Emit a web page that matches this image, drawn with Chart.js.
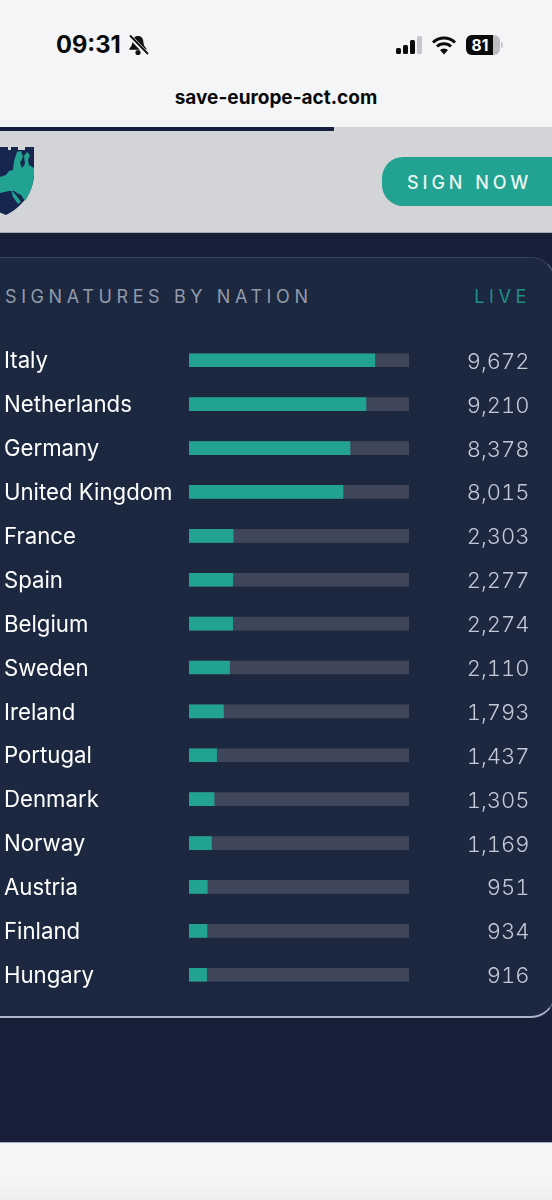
<!DOCTYPE html>
<html>
<head>
<meta charset="utf-8">
<title>Signatures by nation</title>
<script src="https://cdn.jsdelivr.net/npm/chart.js@4"></script>
<style>
  html, body { margin: 0; padding: 0; }
  body { width: 552px; height: 1200px; position: relative; overflow: hidden; background: linear-gradient(#f4f5f6 1180px, #eeeff0 1200px); font-family: Inter, sans-serif; }
  .abs { position: absolute; white-space: nowrap; }
  #statusbg { left: 0; top: 0; width: 552px; height: 127px; background: #f4f5f7; }
  #time { left: 56px; top: 29px; font-size: 23.7px; line-height: 32px; font-weight: 700; color: #0a0a0a; }
  #url { left: 0; width: 552px; top: 87px; text-align: center; font-size: 19px; line-height: 22px; font-weight: 700; color: #0a0a0a; }
  #header { left: 0; top: 127px; width: 552px; height: 105px; background: #d3d4d8; border-bottom: 1px solid #a5a8b2; }
  #progress { left: 0; top: 127px; width: 334px; height: 4px; background: #16213f; }
  #signbtn { left: 382px; top: 157px; width: 190px; height: 49px; border-radius: 21px; background: #22a291; }
  #signtxt { left: 407px; top: 171px; font-size: 18px; line-height: 23px; font-weight: 500; letter-spacing: 3.95px; color: #e8f6f3; }
  #page { left: 0; top: 233px; width: 552px; height: 910px; background: #172038; border-bottom: 1px solid #aab0bf; box-sizing: border-box; }
  #panel { left: -30px; top: 257px; width: 585px; height: 761px; box-sizing: border-box; background: #1c2840; border-radius: 24px;
           border-style: solid; border-width: 1.5px 1.5px 2px; border-color: #353f5a #5b6481 #aeb3cb #5b6481; }
  #title { left: 5px; top: 286px; font-size: 18px; line-height: 22px; font-weight: 400; letter-spacing: 4.6px; color: #929aaa; }
  #live { right: 21px; top: 286px; font-size: 18px; line-height: 22px; letter-spacing: 4.6px; color: #1f8f85; }
  #chartbox { left: 0; top: 322px; width: 552px; height: 691px; }
  #chartbox canvas { display: block; }
  .count { position: absolute; right: 22.5px; line-height: 30px; font-size: 22px; font-weight: 300; color: #c3c8d5; font-variant-numeric: tabular-nums; }
</style>
</head>
<body>

<div class="abs" id="statusbg"></div>
<div class="abs" id="time">09:31</div>
<svg class="abs" style="left:127px;top:34px" width="22" height="22" viewBox="0 0 22 22">
  <path d="M11 2c-3.6 0-5.4 2.6-5.6 6-.1 2.6-1 4.6-3 6.6v1.2h17v-1.2c-2-2-2.9-4-3-6.6C16.2 4.6 14.6 2 11 2z" fill="#111"/>
  <circle cx="11" cy="18.5" r="2.6" fill="#111"/>
  <path d="M2 1.5 20 20" stroke="#f4f5f7" stroke-width="4.5"/>
  <path d="M3 1.5 21 20" stroke="#111" stroke-width="1.8"/>
</svg>
<svg class="abs" style="left:394px;top:34px" width="30" height="22" viewBox="0 0 30 22">
  <rect x="2" y="14" width="5" height="6" rx="1.5" fill="#0b0b0b"/>
  <rect x="9" y="11" width="5" height="9" rx="1.5" fill="#0b0b0b"/>
  <rect x="16" y="6" width="5" height="14" rx="1.5" fill="#0b0b0b"/>
  <rect x="23" y="2" width="5" height="18" rx="1.5" fill="#c6c7cb"/>
</svg>
<svg class="abs" style="left:431px;top:34px" width="26" height="22" viewBox="0 0 26 22">
  <path d="M2 8.5a15.5 15.5 0 0 1 22 0M6 12.5a10 10 0 0 1 14 0" fill="none" stroke="#0b0b0b" stroke-width="3"/>
  <path d="M9 16a6 6 0 0 1 8 0l-4 4.5z" fill="#0b0b0b"/>
</svg>
<svg class="abs" style="left:465px;top:34px" width="40" height="22" viewBox="0 0 40 22">
  <rect x="1" y="1" width="34" height="20" rx="6" fill="#bdbec2"/>
  <path d="M7 1h21v20H7a6 6 0 0 1-6-6V7a6 6 0 0 1 6-6z" fill="#0b0b0b"/>
  <rect x="36" y="8" width="1.5" height="6" rx="0.7" fill="#bdbec2"/>
  <text x="15" y="16.5" text-anchor="middle" font-family="Inter" font-size="15.5" font-weight="700" fill="#fff">81</text>
</svg>
<div class="abs" id="url">save-europe-act.com</div>

<div class="abs" id="header"></div>
<div class="abs" id="progress"></div>
<svg class="abs" style="left:0;top:145px" width="36" height="72" viewBox="0 0 36 72">
  <path d="M-2 2H8V5H11V2H18V5H25V2H34V30C33 48 22 62 6 70C3 69 0 68-2 66z" fill="#16264f"/>
  <path d="M0 32 6 30 9 26 13 25 14 16 17 7 21 6 23 12 20 18 22 23 25 19 24 11 27 7 30 10 28 15 29 20 34 23V30C33 40 30 49 25 56L21 50 17 48 14 46 9 46 0 48z" fill="#22a291"/>
  <path d="M11 45 16 50 21 57 18 59 13 52z" fill="#22a291"/>
</svg>
<div class="abs" id="signbtn"></div>
<div class="abs" id="signtxt">SIGN NOW</div>

<div class="abs" id="page"></div>
<div class="abs" id="panel"></div>
<div class="abs" id="title">SIGNATURES BY NATION</div>
<div class="abs" id="live">LIVE</div>

<div class="abs" id="chartbox"><canvas id="myChart" width="552" height="691"></canvas></div>

<script>
const countries = ["Italy", "Netherlands", "Germany", "United Kingdom", "France", "Spain", "Belgium", "Sweden",
                   "Ireland", "Portugal", "Denmark", "Norway", "Austria", "Finland", "Hungary"];
const signatures = [9672, 9210, 8378, 8015, 2303, 2277, 2274, 2110, 1793, 1437, 1305, 1169, 951, 934, 916];
const valueLabels = ["9,672", "9,210", "8,378", "8,015", "2,303", "2,277", "2,274", "2,110",
                     "1,793", "1,437", "1,305", "1,169", "951", "934", "916"];
const scaleMax = 11450;
const trackValues = countries.map(() => scaleMax);

const chart = new Chart("myChart", {
    type: "bar",
    data: {
        labels: countries,
        datasets: [
            { data: signatures, backgroundColor: "#22a291", barThickness: 13, grouped: false, order: 1 },
            { data: trackValues, backgroundColor: "#3f465a", barThickness: 13, grouped: false, order: 2 }
        ]
    },
    options: {
        indexAxis: "y",
        responsive: false,
        animation: false,
        layout: { padding: { left: 4, right: 143, top: 0, bottom: 0 } },
        plugins: { legend: { display: false }, tooltip: { enabled: false } },
        scales: {
            x: { display: false, min: 0, max: scaleMax },
            y: {
                position: "left",
                grid: { display: false },
                border: { display: false },
                ticks: { color: "#ffffff", crossAlign: "far", autoSkip: false, labelOffset: 1.5, font: { family: "Inter", size: 22.2 } },
                afterFit(axis) { axis.width = 185; }
            }
        }
    }
});

// counts need tabular digits, canvas text can't do that, so they sit in html on the y scale's rows
const box = document.getElementById("chartbox");
valueLabels.forEach((label, i) => {
    const el = document.createElement("div");
    el.className = "count";
    el.textContent = label;
    el.style.top = (chart.scales.y.getPixelForTick(i) - 14.5) + "px";
    box.appendChild(el);
});
</script>
</body>
</html>
